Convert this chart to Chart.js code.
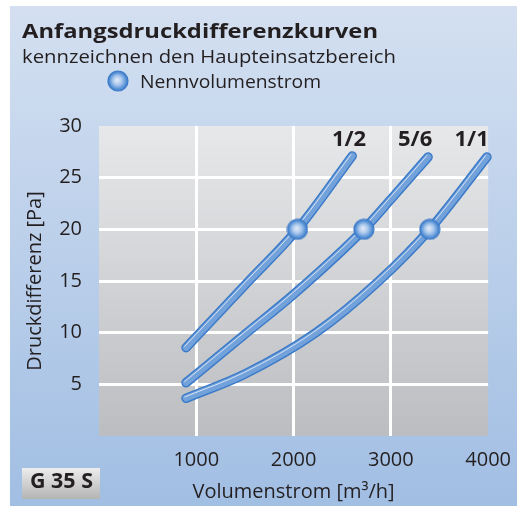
<!DOCTYPE html>
<html lang="de">
<head>
  <meta charset="UTF-8">
  <title>Anfangsdruckdifferenzkurven G 35 S</title>
  <script src="https://cdn.jsdelivr.net/npm/chart.js"></script>
  <style>
    body { margin: 0; background: #fff; }
    #wrap { width: 523px; height: 506px; }
  </style>
</head>
<body>
<div id="wrap"><canvas id="grafico" width="523" height="506"></canvas></div>

<script>
  // Kurven (Volumenstrom m3/h -> Druckdifferenz Pa)
  const kurve12X = [894, 1540, 2040, 2603];
  const kurve12Y = [8.55, 15, 20, 27.1];

  const kurve56X = [894, 1520, 2000, 2723, 3000, 3383];
  const kurve56Y = [5.15, 10, 13.7, 20, 22.9, 27.0];

  const kurve11X = [894, 1500, 2230, 2877, 3400, 3988];
  const kurve11Y = [3.65, 6.0, 10, 15, 20, 27.0];

  // Nennvolumenstrom-Punkte
  const nennX = [2040, 2723, 3400];
  const nennY = [20, 20, 20];

  const kurvenNamen = ['1/2', '5/6', '1/1'];
  const xTicks = [1000, 2000, 3000, 4000];
  const yTicks = [5, 10, 15, 20, 25, 30];

  const schrift = '"Open Sans", sans-serif';
  const textFarbe = '#231f20';

  function punkte(xs, ys) {
    return xs.map((x, i) => ({ x: x, y: ys[i] }));
  }

  // Kugel-Symbol als kleines Canvas
  function kugelBild(r) {
    const c = document.createElement('canvas');
    c.width = c.height = r * 2 + 2;
    const k = c.getContext('2d');
    const m = r + 1;
    const g = k.createRadialGradient(m - 1, m - 1, 0, m, m, r);
    g.addColorStop(0, '#e6eef8');
    g.addColorStop(0.45, '#a9c7ec');
    g.addColorStop(0.8, '#5c95d8');
    g.addColorStop(1, '#3b79c6');
    k.fillStyle = g;
    k.beginPath();
    k.arc(m, m, r, 0, Math.PI * 2);
    k.fill();
    k.strokeStyle = '#3d7bc8';
    k.lineWidth = 1.2;
    k.stroke();
    return c;
  }
  const kugel = kugelBild(10);

  function rohr(xs, ys) {
    const basis = {
      data: punkte(xs, ys),
      showLine: true,
      pointRadius: 0,
      cubicInterpolationMode: 'monotone',
      borderCapStyle: 'round',
      borderJoinStyle: 'round',
      fill: false,
      clip: false
    };
    return [
      Object.assign({}, basis, { borderColor: '#3c7bc9', borderWidth: 9.5, order: 3 }),
      Object.assign({}, basis, { borderColor: '#73a2db', borderWidth: 6.5, order: 2 }),
      Object.assign({}, basis, { borderColor: 'rgba(255,255,255,0.7)', borderWidth: 1, order: 1, glanz: true })
    ];
  }

  function textBreit(ctx, text, x, y, breite) {
    const w = ctx.measureText(text).width;
    ctx.save();
    ctx.translate(x, y);
    ctx.scale(breite / w, 1);
    ctx.fillText(text, 0, 0);
    ctx.restore();
  }

  const hintergrund = {
    id: 'hintergrund',
    beforeDraw(chart) {
      const { ctx, chartArea: a } = chart;
      ctx.save();
      let g = ctx.createLinearGradient(0, 6, 0, 506);
      g.addColorStop(0, '#d4e0f1');
      g.addColorStop(1, '#a1bee3');
      ctx.fillStyle = g;
      ctx.fillRect(10, 6, 507, 500);
      g = ctx.createLinearGradient(0, a.top, 0, a.bottom);
      g.addColorStop(0, '#e7e8ea');
      g.addColorStop(1, '#bcbdc0');
      ctx.fillStyle = g;
      ctx.fillRect(a.left, a.top, a.right - a.left, a.bottom - a.top);
      ctx.restore();
    }
  };

  const glanz = {
    id: 'glanz',
    beforeDatasetDraw(chart, args) {
      if (chart.data.datasets[args.index].glanz) {
        chart.ctx.save();
        chart.ctx.translate(-1.3, -1.3);
      }
    },
    afterDatasetDraw(chart, args) {
      if (chart.data.datasets[args.index].glanz) chart.ctx.restore();
    }
  };

  const beschriftung = {
    id: 'beschriftung',
    afterDraw(chart) {
      const ctx = chart.ctx;
      const sx = chart.scales.x, sy = chart.scales.y;
      ctx.save();
      ctx.fillStyle = textFarbe;
      ctx.textBaseline = 'alphabetic';
      ctx.textAlign = 'left';

      ctx.font = 'bold 19px ' + schrift;
      textBreit(ctx, 'Anfangsdruckdifferenzkurven', 22, 38, 356);
      ctx.font = '19px ' + schrift;
      textBreit(ctx, 'kennzeichnen den Haupteinsatzbereich', 22, 63, 374);

      ctx.drawImage(kugel, 118 - 11, 81 - 11);
      textBreit(ctx, 'Nennvolumenstrom', 140, 88, 181);

      // Kurvennamen ueber den Kurvenenden
      ctx.font = 'bold 22px ' + schrift;
      ctx.textAlign = 'center';
      ctx.textBaseline = 'middle';
      const namenX = [2570, 3250, 3830];
      kurvenNamen.forEach((n, i) => {
        ctx.fillText(n, sx.getPixelForValue(namenX[i]), sy.getPixelForValue(28.7));
      });

      // Typenschild
      const g = ctx.createLinearGradient(0, 468, 0, 499);
      g.addColorStop(0, '#ededed');
      g.addColorStop(1, '#b4b4b4');
      ctx.fillStyle = g;
      ctx.fillRect(22, 468, 78, 31);
      ctx.fillStyle = textFarbe;
      ctx.font = 'bold 21px ' + schrift;
      ctx.textAlign = 'left';
      ctx.textBaseline = 'alphabetic';
      textBreit(ctx, 'G 35 S', 30, 488, 63);
      ctx.restore();
    }
  };

  const datensaetze = [
    {
      data: punkte(nennX, nennY),
      pointStyle: kugel,
      pointRadius: 10,
      showLine: false,
      order: 0,
      clip: false
    }
  ].concat(rohr(kurve12X, kurve12Y), rohr(kurve56X, kurve56Y), rohr(kurve11X, kurve11Y));

  const gitterFarbe = (c) => {
    const v = c.tick ? c.tick.value : null;
    return (v === 0 || v === 30 || v === 4000) ? 'rgba(0,0,0,0)' : '#ffffff';
  };

  new Chart(document.getElementById('grafico'), {
    type: 'scatter',
    data: { datasets: datensaetze },
    options: {
      responsive: false,
      animation: false,
      layout: { padding: { top: 126, left: 10, right: 33, bottom: 0 } },
      plugins: {
        legend: { display: false },
        tooltip: { enabled: false }
      },
      scales: {
        x: {
          type: 'linear',
          min: 0,
          max: 4000,
          border: { display: false },
          grid: { color: gitterFarbe, lineWidth: 3, drawTicks: false },
          ticks: {
            stepSize: 1000,
            padding: 12,
            color: textFarbe,
            font: { family: schrift, size: 20 },
            maxRotation: 0,
            callback: (v) => xTicks.includes(v) ? String(v) : ''
          },
          title: {
            display: true,
            text: 'Volumenstrom [m³/h]',
            color: textFarbe,
            font: { family: schrift, size: 20 },
            padding: { top: 0, bottom: 2 }
          },
          afterFit: (s) => { s.height = 70; }
        },
        y: {
          type: 'linear',
          min: 0,
          max: 30,
          border: { display: false },
          grid: { color: gitterFarbe, lineWidth: 3, drawTicks: false },
          ticks: {
            stepSize: 5,
            padding: 17,
            color: textFarbe,
            font: { family: schrift, size: 20 },
            callback: (v) => yTicks.includes(v) ? String(v) : ''
          },
          title: {
            display: true,
            text: 'Druckdifferenz [Pa]',
            color: textFarbe,
            font: { family: schrift, size: 20 },
            padding: { top: 13, bottom: 0 }
          },
          afterFit: (s) => { s.width = 89; }
        }
      }
    },
    plugins: [hintergrund, glanz, beschriftung]
  });
</script>
</body>
</html>
